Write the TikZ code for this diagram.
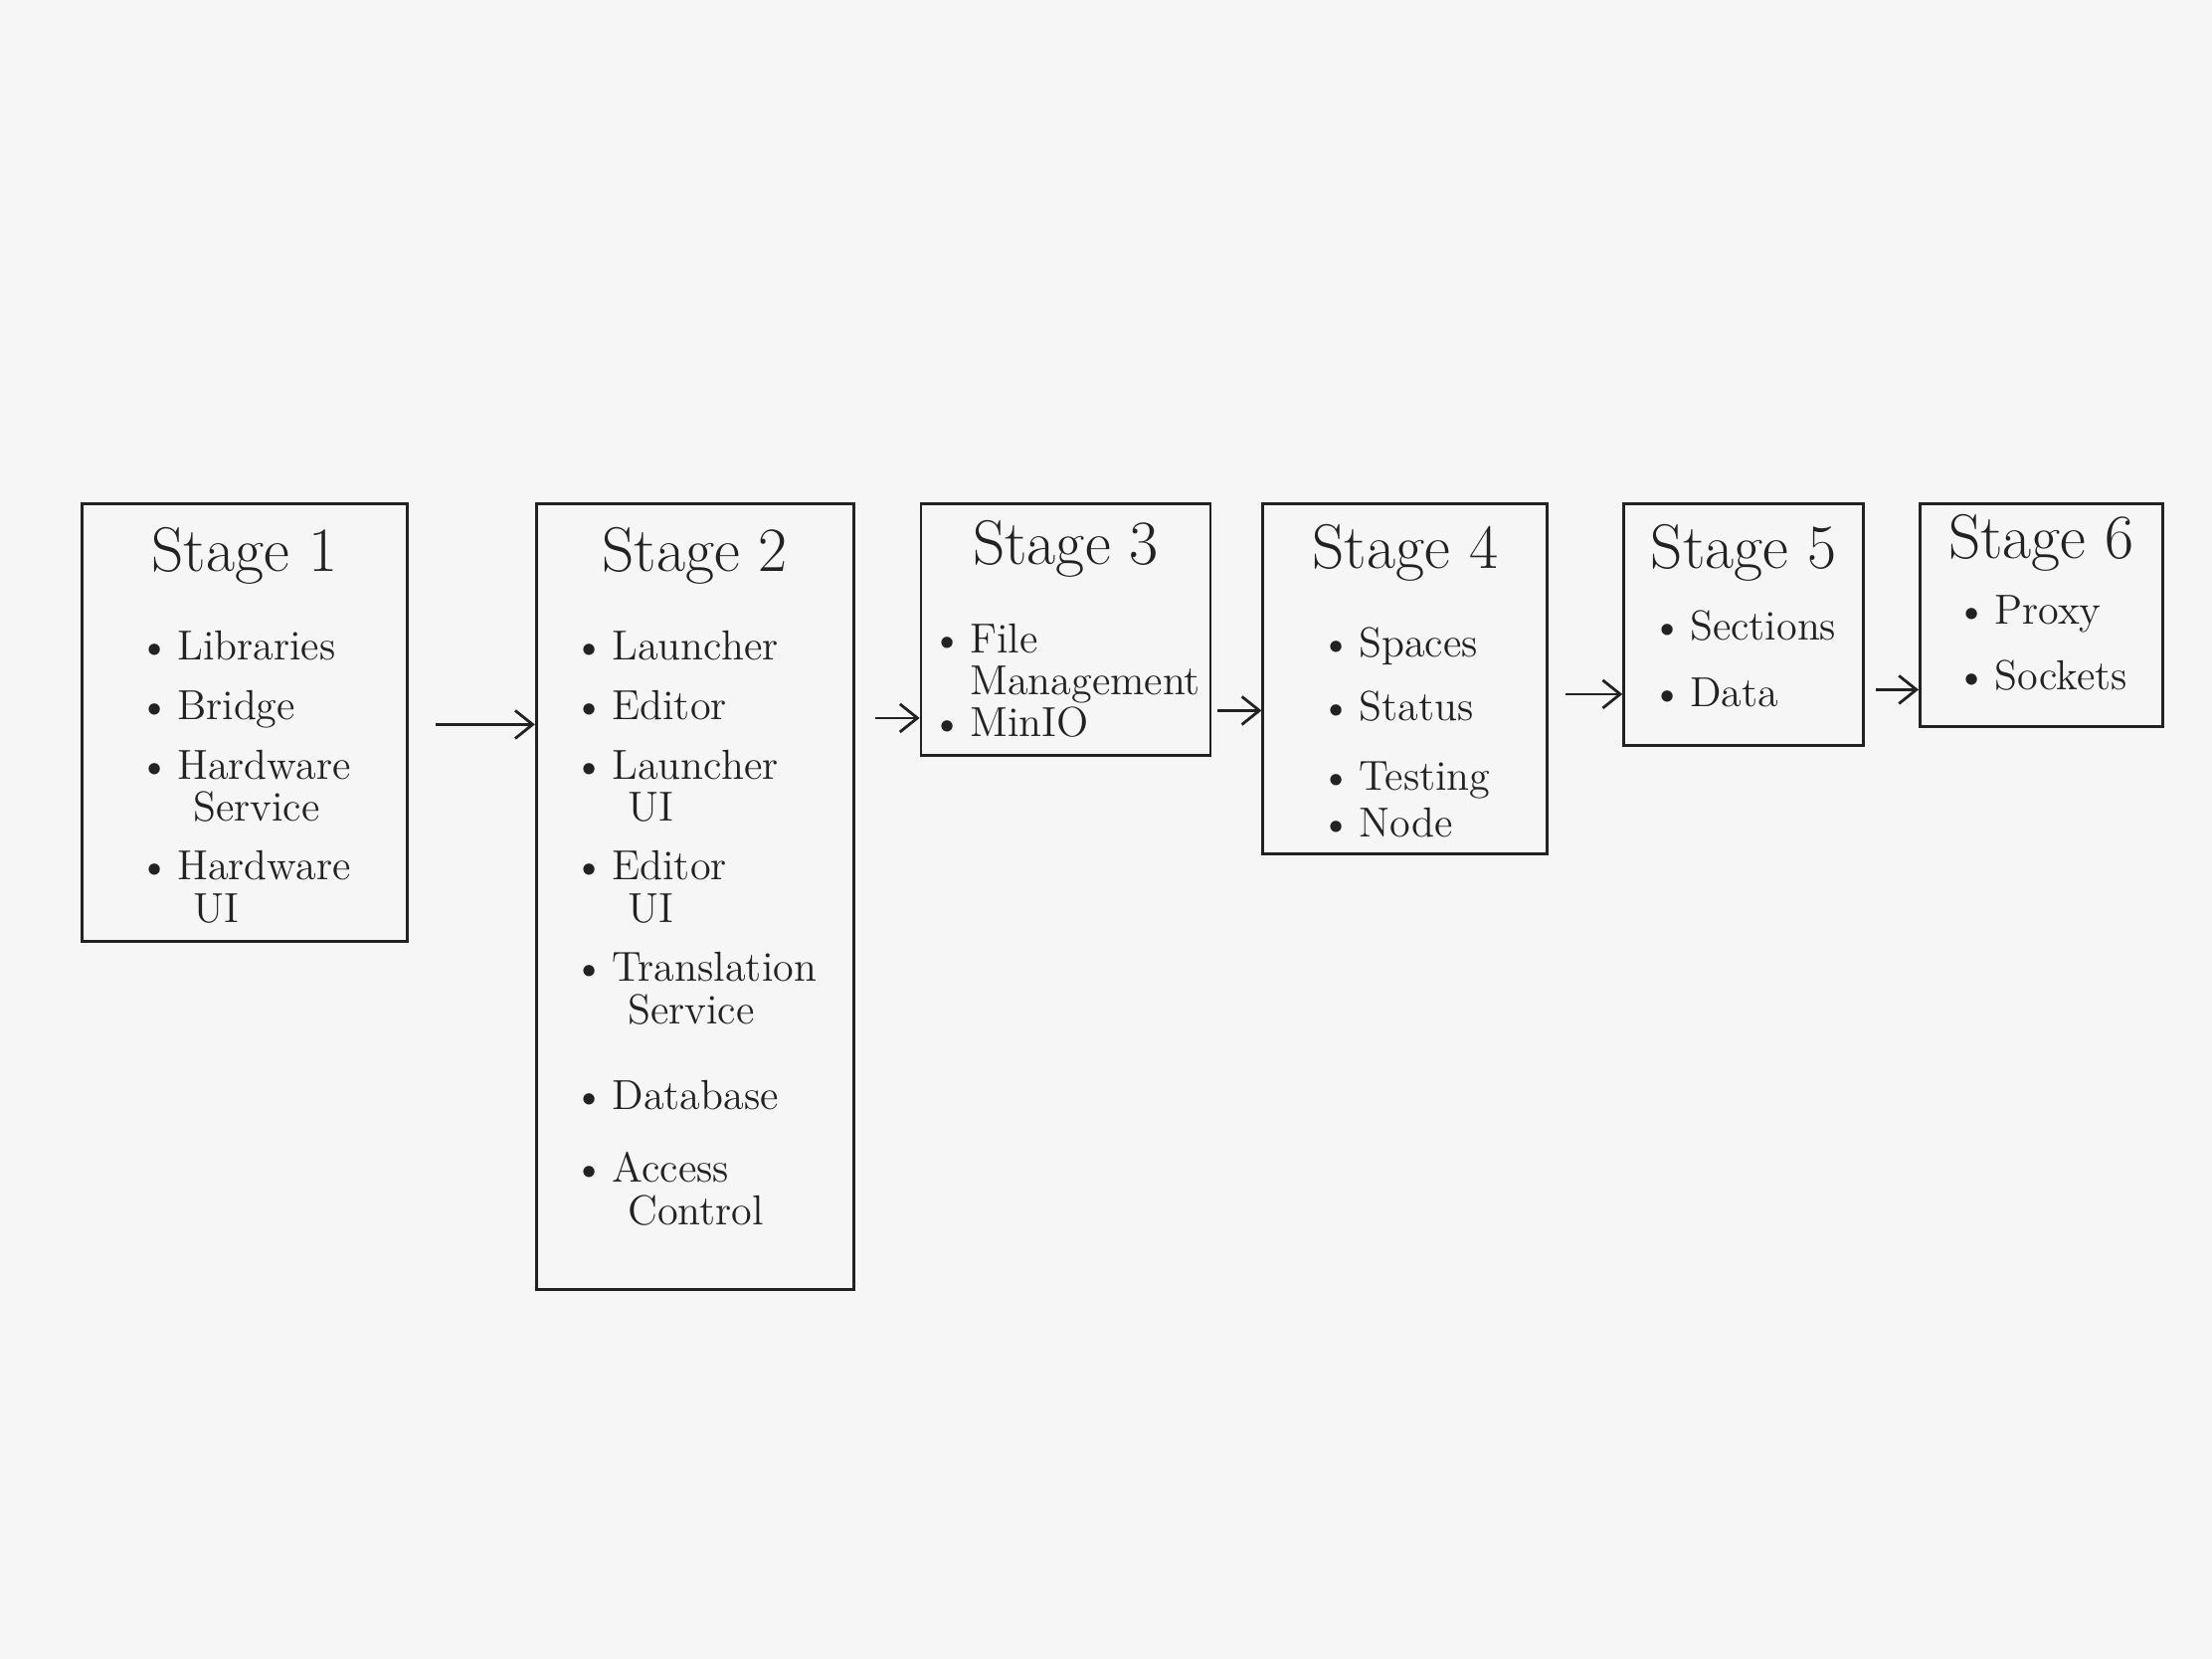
\documentclass[tikz,border=0pt]{standalone}
\usepackage{tikz}
\usetikzlibrary{positioning,arrows.meta}
\definecolor{paper}{RGB}{246,246,246}
\definecolor{ink}{RGB}{34,34,34}
\newcommand{\bul}{\textbullet\,}
\newcommand{\more}{\hspace*{.55cm}}

\begin{document}
\begin{tikzpicture}
    [ stage/.style =
      { draw = ink, line width = .8pt }
    , title/.style =
      { ink, inner sep = 0pt, font = \fontsize{18}{20}\selectfont }
    , items/.style =
      { ink, inner sep = 0pt, align = left, font = \fontsize{12}{12}\selectfont }
    , flow/.style =
      { draw = ink, line width = .8pt, -{Straight Barb[length=5pt,width=8pt]} }
    ]
    \fill [paper] (0,0) rectangle (22.24,-16.68);
    \useasboundingbox (0,0) rectangle (22.24,-16.68);

    \node [stage, minimum width=3.27cm, minimum height=4.4cm, anchor=north west] (s1) at (.81,-5.05) {};
    \node [stage, minimum width=3.19cm, minimum height=7.9cm] (s2) [right=1.27cm of s1.north east, anchor=north west] {};
    \node [stage, minimum width=2.91cm, minimum height=2.53cm] (s3) [right=.65cm of s2.north east, anchor=north west] {};
    \node [stage, minimum width=2.86cm, minimum height=3.52cm] (s4) [right=.5cm of s3.north east, anchor=north west] {};
    \node [stage, minimum width=2.41cm, minimum height=2.43cm] (s5) [right=.74cm of s4.north east, anchor=north west] {};
    \node [stage, minimum width=2.44cm, minimum height=2.24cm] (s6) [right=.54cm of s5.north east, anchor=north west] {};

    \node [title] (t1) [below=.25cm of s1.north] {Stage 1};
    \node [title] (t2) [below=.25cm of s2.north] {Stage 2};
    \node [title] (t3) [below=.18cm of s3.north] {Stage 3};
    \node [title] (t4) [below=.22cm of s4.north] {Stage 4};
    \node [title] (t5) [below=.22cm of s5.north] {Stage 5};
    \node [title] (t6) [below=.12cm of s6.north] {Stage 6};

    \node [items] (l1) [below=.45cm of t1]
      {\bul Libraries\\[5pt] \bul Bridge\\[5pt] \bul Hardware\\ \more Service\\[5pt] \bul Hardware\\ \more UI};
    \node [items] (l2) [below=.45cm of t2]
      {\bul Launcher\\[5pt] \bul Editor\\[5pt] \bul Launcher\\ \more UI\\[5pt] \bul Editor\\ \more UI\\[5pt]
       \bul Translation\\ \more Service\\[12.5pt] \bul Database\\[9pt] \bul Access\\ \more Control};
    \node [items] (l3) [below=.45cm of t3]
      {\bul File\\ \phantom{\bul}Management\\ \bul MinIO};
    \node [items] (l4) [below=.45cm of t4]
      {\bul Spaces\\[6pt] \bul Status\\[8pt] \bul Testing\\[1.5pt] \bul Node};
    \node [items] (l5) [below=.28cm of t5]
      {\bul Sections\\[7pt] \bul Data};
    \node [items] (l6) [below=.22cm of t6]
      {\bul Proxy\\[7pt] \bul Sockets};

    \coordinate (in2) at ([yshift=1.73cm]s2.west);
    \coordinate (in3) at ([yshift=-.89cm]s3.west);
    \coordinate (in4) at ([yshift=-.32cm]s4.west);
    \coordinate (in5) at ([yshift=-.7cm]s5.west);
    \coordinate (in6) at ([yshift=-.75cm]s6.west);

    \draw [flow, shorten <=.27cm] (s1.east |- in2) -- (in2);
    \draw [flow, shorten <=.2cm] (s2.east |- in3) -- (in3);
    \draw [flow, shorten <=.06cm] (s3.east |- in4) -- (in4);
    \draw [flow, shorten <=.17cm] (s4.east |- in5) -- (in5);
    \draw [flow, shorten <=.11cm] (s5.east |- in6) -- (in6);
  \end{tikzpicture}
\end{document}
